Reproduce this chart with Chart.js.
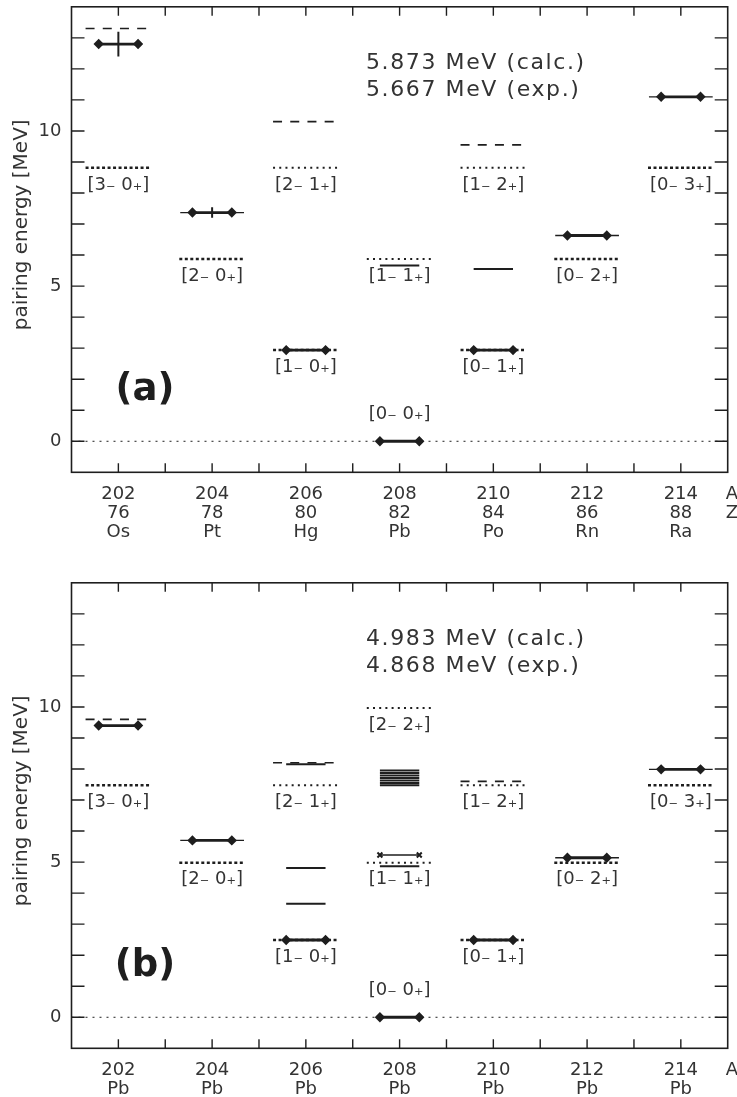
<!DOCTYPE html>
<html>
<head>
<meta charset="utf-8">
<script src="https://cdn.jsdelivr.net/npm/chart.js@4/dist/chart.umd.min.js"></script>
<style>
  html, body { margin: 0; padding: 0; background: #fff; }
  #wrap { position: relative; width: 737px; height: 1097px; }
  canvas { position: absolute; left: 0; }
</style>
</head>
<body>
<div id="wrap">
  <canvas id="chartA" width="737" height="560" style="top:0px"></canvas>
  <canvas id="chartB" width="737" height="521" style="top:576px"></canvas>
</div>
<script>
// nuclei along the x axis
const massNumbers = [202, 204, 206, 208, 210, 212, 214];
const chargeA = [76, 78, 80, 82, 84, 86, 88];
const elementA = ['Os', 'Pt', 'Hg', 'Pb', 'Po', 'Rn', 'Ra'];
const elementB = ['Pb', 'Pb', 'Pb', 'Pb', 'Pb', 'Pb', 'Pb'];
const yTickLabels = [0, 5, 10];

// panel (a): harmonic pairing-vibration levels
const harmMassA = [202, 204, 206, 206, 208, 210, 210, 212, 214, 208];
const harmEnergyA = [8.81, 5.873, 8.81, 2.937, 5.873, 8.81, 2.937, 5.873, 8.81, 0];
const harmLabelA = ['[3₋ 0₊]', '[2₋ 0₊]', '[2₋ 1₊]', '[1₋ 0₊]', '[1₋ 1₊]', '[1₋ 2₊]', '[0₋ 1₊]', '[0₋ 2₊]', '[0₋ 3₊]', '[0₋ 0₊]'];
const harmStyleA = ['dense', 'dense', 'sparse', 'dense', 'sparse', 'sparse', 'dense', 'dense', 'dense', 'none'];
// panel (a): other levels
const expEnergyA = [12.8, 7.37, 2.937, 0, 2.937, 6.63, 11.1];
const expErrorA = [0.4, 0.17, 0, 0, 0, 0, 0];
const wideMassA = [204, 212, 214];
const wideEnergyA = [7.37, 6.63, 11.1];
const dashMassA = [202, 206, 210];
const dashEnergyA = [13.3, 10.3, 9.55];
const solidMassA = [208, 210];
const solidEnergyA = [5.667, 5.55];
const crossMassA = [];
const crossEnergyA = [];

// panel (b)
const harmMassB = [202, 204, 206, 206, 208, 208, 210, 210, 212, 214, 208];
const harmEnergyB = [7.475, 4.983, 7.475, 2.49, 9.966, 4.983, 7.475, 2.49, 4.983, 7.475, 0];
const harmLabelB = ['[3₋ 0₊]', '[2₋ 0₊]', '[2₋ 1₊]', '[1₋ 0₊]', '[2₋ 2₊]', '[1₋ 1₊]', '[1₋ 2₊]', '[0₋ 1₊]', '[0₋ 2₊]', '[0₋ 3₊]', '[0₋ 0₊]'];
const harmStyleB = ['dense', 'dense', 'sparse', 'dense', 'sparse', 'sparse', 'sparse', 'dense', 'dense', 'dense', 'none'];
const expEnergyB = [9.4, 5.7, 2.49, 0, 2.49, 5.14, 7.99];
const expErrorB = [0, 0, 0, 0, 0, 0, 0];
const wideMassB = [204, 212, 214];
const wideEnergyB = [5.7, 5.14, 7.99];
const dashMassB = [202, 206, 210];
const dashEnergyB = [9.6, 8.2, 7.6];
const solidMassB = [206, 206, 206, 208, 208, 208, 208, 208, 208, 208, 208];
const solidEnergyB = [8.15, 4.81, 3.66, 4.868, 7.95, 7.87, 7.79, 7.71, 7.63, 7.55, 7.48];
const crossMassB = [208];
const crossEnergyB = [5.23];

const INK = '#1e1e1e';
const FONT = '"DejaVu Sans", sans-serif';

function segments(xs, ys, half) {
  const pts = [];
  xs.forEach((x, i) => {
    pts.push({ x: x - half, y: ys[i] }, { x: x + half, y: ys[i] }, { x: x, y: null });
  });
  return pts;
}

function errorBars(xs, ys, errs) {
  const pts = [];
  xs.forEach((x, i) => {
    if (!errs[i]) return;
    pts.push({ x: x, y: ys[i] - errs[i] }, { x: x, y: ys[i] + errs[i] }, { x: x, y: null });
  });
  return pts;
}

function lineSet(data, extra) {
  return Object.assign({
    data, showLine: true, spanGaps: false, fill: false,
    pointRadius: 0, borderColor: INK, backgroundColor: INK,
    borderWidth: 2, borderCapStyle: 'butt'
  }, extra);
}

const panelDecor = {
  id: 'panelDecor',
  afterDatasetsDraw(chart, args, o) {
    const { ctx, chartArea: a, scales: { x, y } } = chart;
    ctx.save();
    ctx.strokeStyle = INK;
    ctx.lineWidth = 1.6;
    ctx.strokeRect(a.left, a.top, a.right - a.left, a.bottom - a.top);
    ctx.lineWidth = 1.4;
    ctx.beginPath();
    for (let v = 202; v <= 214; v++) {
      const px = x.getPixelForValue(v);
      ctx.moveTo(px, a.bottom); ctx.lineTo(px, a.bottom - 9);
      ctx.moveTo(px, a.top); ctx.lineTo(px, a.top + 9);
    }
    for (let v = 0; v <= 13; v++) {
      const py = y.getPixelForValue(v);
      ctx.moveTo(a.left, py); ctx.lineTo(a.left + 13, py);
      ctx.moveTo(a.right, py); ctx.lineTo(a.right - 13, py);
    }
    ctx.stroke();

    // level labels
    ctx.fillStyle = '#333';
    ctx.font = '18px ' + FONT;
    ctx.textAlign = 'center';
    ctx.textBaseline = 'middle';
    o.labelMass.forEach((m, i) => {
      const py = y.getPixelForValue(o.labelEnergy[i]);
      const off = o.labelEnergy[i] === 0 ? -27 : 17;
      ctx.fillText(o.labels[i], x.getPixelForValue(m), py + off);
    });

    // summary text
    ctx.font = '22px ' + FONT;
    ctx.textAlign = 'left';
    ctx.letterSpacing = '1.6px';
    ctx.fillText(o.note[0], 366, a.top + 56);
    ctx.fillText(o.note[1], 366, a.top + 83);
    ctx.letterSpacing = '0px';

    // panel tag
    ctx.fillStyle = INK;
    ctx.font = 'bold 37px ' + FONT;
    ctx.textAlign = 'center';
    ctx.fillText(o.tag, 145, a.top + 384);

    // y axis title
    ctx.fillStyle = '#333';
    ctx.font = '20px ' + FONT;
    ctx.translate(22, a.top + 218);
    ctx.rotate(-Math.PI / 2);
    ctx.fillText('pairing energy [MeV]', 0, 0);
    ctx.setTransform(1, 0, 0, 1, 0, 0);

    // row names right of the x labels
    ctx.font = '18px ' + FONT;
    o.rowNames.forEach((r, i) => ctx.fillText(r, 732, a.bottom + 22 + i * 19));
    ctx.restore();
  }
};

function makePanel(id, d) {
  const dense = d.harmStyle.map((s, i) => s === 'dense' ? i : -1).filter(i => i >= 0);
  const sparse = d.harmStyle.map((s, i) => s === 'sparse' ? i : -1).filter(i => i >= 0);
  const pick = (arr, idx) => idx.map(i => arr[i]);
  const datasets = [
    lineSet([{ x: 201, y: 0 }, { x: 215, y: 0 }], { borderWidth: 1, borderDash: [2, 5], order: 9 }),
    lineSet(segments(pick(d.harmMass, dense), pick(d.harmEnergy, dense), 0.7), { borderWidth: 2.5, borderDash: [3, 2.5], order: 8 }),
    lineSet(segments(pick(d.harmMass, sparse), pick(d.harmEnergy, sparse), 0.7), { borderWidth: 2, borderDash: [2, 4.2], order: 8 }),
    lineSet(segments(d.dashMass, d.dashEnergy, 0.7), { borderWidth: 1.6, borderDash: [9, 8.2], order: 7 }),
    lineSet(segments(d.wideMass, d.wideEnergy, 0.68), { borderWidth: 1.3, order: 6 }),
    lineSet(segments(d.solidMass, d.solidEnergy, 0.42), { borderWidth: 2, order: 5 }),
    lineSet(segments(massNumbers, d.expEnergy, 0.42), { borderWidth: 2.8, pointRadius: 3.2, pointStyle: 'rectRot', order: 4 }),
    lineSet(errorBars(massNumbers, d.expEnergy, d.expError), { borderWidth: 2, order: 3 }),
    lineSet(segments(d.crossMass, d.crossEnergy, 0.42), { borderWidth: 1.5, pointRadius: 3.5, pointStyle: 'crossRot', pointBorderWidth: 2, order: 2 })
  ];
  const rowsFor = v => {
    const k = massNumbers.indexOf(v);
    if (k < 0) return '';
    return d.rows.map(r => String(r[k]));
  };
  return new Chart(document.getElementById(id), {
    type: 'scatter',
    data: { datasets },
    plugins: [panelDecor],
    options: {
      responsive: false, animation: false, devicePixelRatio: 1, events: [],
      layout: { padding: { top: d.padTop, right: 9.3, left: 0, bottom: 0 } },
      plugins: {
        legend: { display: false }, tooltip: { enabled: false },
        panelDecor: {
          labelMass: d.harmMass, labelEnergy: d.harmEnergy, labels: d.harmLabel,
          note: d.note, tag: d.tag, rowNames: d.rowNames
        }
      },
      scales: {
        x: {
          type: 'linear', min: 201, max: 215,
          grid: { display: false, drawTicks: false }, border: { display: false },
          ticks: {
            stepSize: 1, autoSkip: false, maxRotation: 0, padding: 13, color: '#333',
            font: { family: FONT, size: 18, lineHeight: 1.05 },
            callback: v => rowsFor(v)
          },
          afterFit: s => { s.height = d.axisHeight; s.paddingLeft = 0; s.paddingRight = 0; }
        },
        y: {
          min: -1, max: 14,
          grid: { display: false, drawTicks: false }, border: { display: false },
          ticks: {
            stepSize: 1, padding: 10, color: '#333',
            font: { family: FONT, size: 18 },
            callback: v => yTickLabels.includes(v) ? String(v) : ''
          },
          afterFit: s => { s.width = 71.5; s.paddingTop = 0; s.paddingBottom = 0; }
        }
      }
    }
  });
}

makePanel('chartA', {
  harmMass: harmMassA, harmEnergy: harmEnergyA, harmLabel: harmLabelA, harmStyle: harmStyleA,
  expEnergy: expEnergyA, expError: expErrorA, wideMass: wideMassA, wideEnergy: wideEnergyA,
  dashMass: dashMassA, dashEnergy: dashEnergyA, solidMass: solidMassA, solidEnergy: solidEnergyA,
  crossMass: crossMassA, crossEnergy: crossEnergyA,
  rows: [massNumbers, chargeA, elementA], rowNames: ['A', 'Z'],
  note: ['5.873 MeV (calc.)', '5.667 MeV (exp.)'], tag: '(a)',
  padTop: 6, axisHeight: 560 - 472.3
});

makePanel('chartB', {
  harmMass: harmMassB, harmEnergy: harmEnergyB, harmLabel: harmLabelB, harmStyle: harmStyleB,
  expEnergy: expEnergyB, expError: expErrorB, wideMass: wideMassB, wideEnergy: wideEnergyB,
  dashMass: dashMassB, dashEnergy: dashEnergyB, solidMass: solidMassB, solidEnergy: solidEnergyB,
  crossMass: crossMassB, crossEnergy: crossEnergyB,
  rows: [massNumbers, elementB], rowNames: ['A'],
  note: ['4.983 MeV (calc.)', '4.868 MeV (exp.)'], tag: '(b)',
  padTop: 6.3, axisHeight: 521 - (1048.3 - 576)
});
</script>
</body>
</html>
